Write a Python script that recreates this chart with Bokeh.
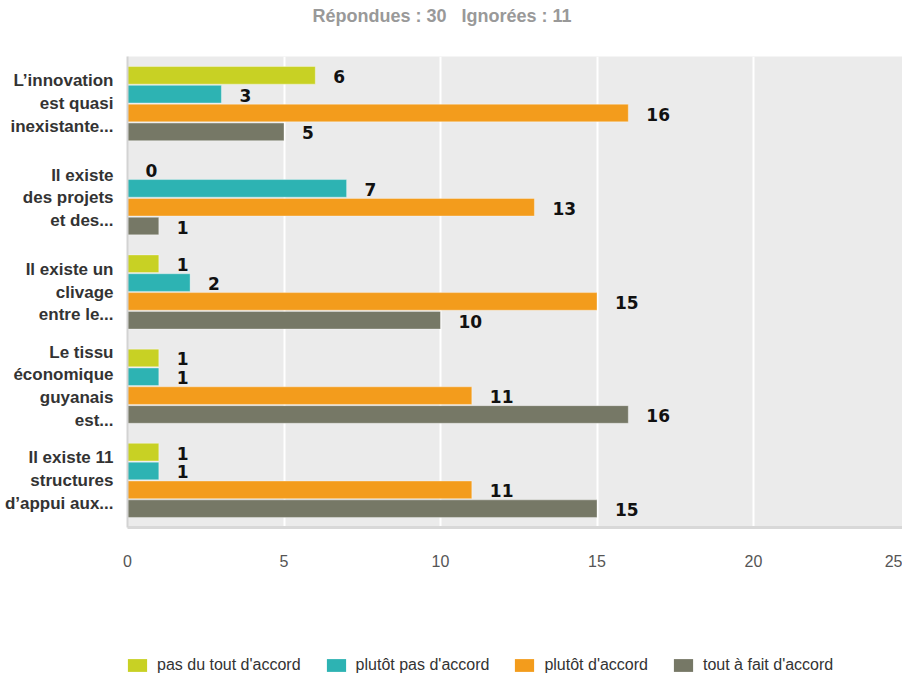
from bokeh.plotting import figure
from bokeh.layouts import column
from bokeh.models import ColumnDataSource, FactorRange, Range1d, FixedTicker, Legend, LegendItem, Title
from bokeh.transform import dodge
from bokeh.core.properties import value
from bokeh.embed import file_html
from bokeh.resources import INLINE

# ---- data ----
categories = [
    "L\u2019innovation\nest quasi\ninexistante...",
    "Il existe\ndes projets\net des...",
    "Il existe un\nclivage\nentre le...",
    "Le tissu\n\u00e9conomique\nguyanais\nest...",
    "Il existe 11\nstructures\nd\u2019appui aux...",
]
series_names = ["pas du tout d'accord", "plut\u00f4t pas d'accord", "plut\u00f4t d'accord", "tout \u00e0 fait d'accord"]
pas_du_tout = [6, 0, 1, 1, 1]
plutot_pas = [3, 7, 2, 1, 1]
plutot_accord = [16, 13, 15, 11, 11]
tout_a_fait = [5, 1, 10, 16, 15]
series_values = [pas_du_tout, plutot_pas, plutot_accord, tout_a_fait]
series_colors = ["#c8d124", "#2db3b3", "#f39c1c", "#767866"]
x_ticks = [0, 5, 10, 15, 20]
x_last_tick_label = "25"
header_text = "R\u00e9pondues : 30\u00a0\u00a0 Ignor\u00e9es : 11"

X_END = 24.76
offsets = [0.3, 0.1, -0.1, -0.3]
W = 902
HEADER_H = 56
LEGEND_H = 30
MAIN_H = 674 - HEADER_H - LEGEND_H

# ---- header ----
head = figure(width=W, height=HEADER_H, output_backend="svg", toolbar_location=None,
              min_border=0, x_axis_type=None, y_axis_type=None)
head.outline_line_color = None
head.grid.visible = False
head.title = Title(text=header_text, align="left", offset=185, standoff=6,
                   text_font="Liberation Sans", text_font_style="bold",
                   text_font_size="18px", text_color="#999999")

# ---- main chart ----
p = figure(width=W, height=MAIN_H, output_backend="svg", toolbar_location=None,
           y_range=FactorRange(factors=list(reversed(categories))),
           x_range=Range1d(0, X_END),
           min_border_left=127, min_border_right=0, min_border_top=0,
           min_border_bottom=MAIN_H - 471)

p.background_fill_color = "#ebebeb"
p.border_fill_color = "white"
p.outline_line_color = None

for name, vals, col, off in zip(series_names, series_values, series_colors, offsets):
    src = ColumnDataSource(dict(cat=categories, val=vals, lbl=[str(v) for v in vals]))
    p.hbar(y=dodge("cat", off, range=p.y_range), left=0, right="val", height=0.187,
           source=src, fill_color=col, line_color="white", line_alpha=0.35, line_width=1)
    p.text(x="val", y=dodge("cat", off, range=p.y_range), text="lbl", source=src,
           x_offset=18, y_offset=1, text_align="left", text_baseline="middle",
           text_font=value("DejaVu Sans"), text_font_style="bold", text_font_size="17px",
           text_color="#111111")

p.xaxis.ticker = FixedTicker(ticks=x_ticks + [X_END])
p.xaxis.major_label_overrides = {X_END: x_last_tick_label}
p.xgrid.ticker = FixedTicker(ticks=x_ticks)
p.xgrid.grid_line_color = "white"
p.xgrid.grid_line_width = 2
p.ygrid.grid_line_color = None
p.xaxis.axis_line_color = "#d8d8d8"
p.xaxis.axis_line_width = 3
p.xaxis.major_tick_line_color = None
p.xaxis.minor_tick_line_color = None
p.xaxis.major_label_standoff = 21
p.xaxis.major_label_text_font = "Liberation Sans"
p.xaxis.major_label_text_font_size = "16px"
p.xaxis.major_label_text_color = "#555555"

p.yaxis.axis_line_color = "#d3d3d3"
p.yaxis.axis_line_width = 2
p.yaxis.major_tick_line_color = None
p.yaxis.minor_tick_line_color = None
p.yaxis.major_label_standoff = 8
p.yaxis.major_label_text_font = "Liberation Sans"
p.yaxis.major_label_text_font_style = "bold"
p.yaxis.major_label_text_font_size = "17px"
p.yaxis.major_label_text_color = "#333333"
p.yaxis.major_label_text_line_height = 1.2

# ---- legend strip (swatches come from renderers whose bars lie outside the view) ----
leg = figure(width=W, height=LEGEND_H, output_backend="svg", toolbar_location=None,
             min_border=0, x_axis_type=None, y_axis_type=None,
             x_range=Range1d(0, 1), y_range=Range1d(0, 1))
leg.outline_line_color = None
leg.grid.visible = False
items = []
for name, col in zip(series_names, series_colors):
    hidden = ColumnDataSource(dict(y=[10], left=[5], right=[6]))
    r = leg.hbar(y="y", left="left", right="right", height=0.5, source=hidden,
                 fill_color=col, line_color=None)
    items.append(LegendItem(label=name, renderers=[r]))
legend = Legend(items=items, orientation="horizontal", location=(-2, 0),
                glyph_width=24, glyph_height=16, label_standoff=8, spacing=23,
                padding=0, margin=0, border_line_color=None, background_fill_alpha=0,
                label_text_font="Liberation Sans", label_text_font_size="16px",
                label_text_color="#333333")
leg.add_layout(legend)

layout = column(head, p, leg, spacing=0)
open("out.html", "w").write(file_html(layout, INLINE))
